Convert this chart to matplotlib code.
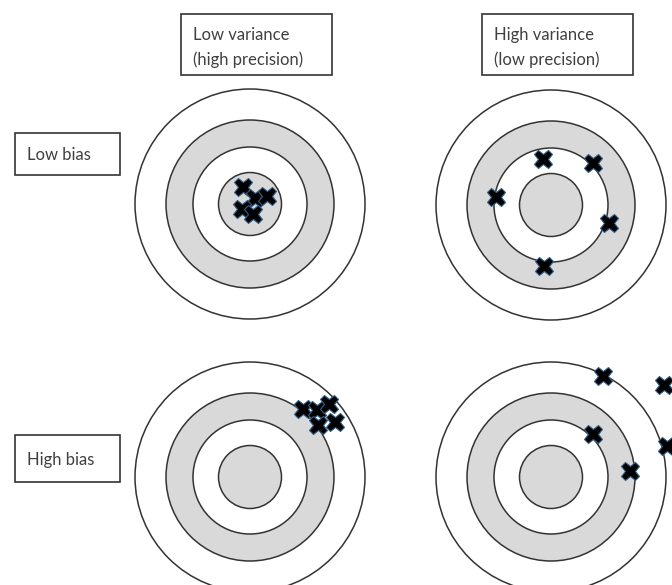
import matplotlib
matplotlib.use("Agg")
from matplotlib import pyplot as plt
from matplotlib.patches import Circle, Rectangle

# target centres (pixel coordinates of the original picture)
target_x = [250, 551, 250, 551]
target_y = [204, 205, 477, 477]
ring_radii = [115, 84, 57, 31.5]
ring_fill = ["white", "#d9d9d9", "white", "#d9d9d9"]

# hits on each target
hits_x = [
    [243, 255, 267, 242, 253],
    [543, 593, 496, 609, 544],
    [303, 317, 329, 318, 335],
    [603, 664, 667, 593, 630],
]
hits_y = [
    [187, 198, 196, 209, 214],
    [159, 163, 197, 223, 266],
    [409, 410, 404, 425, 422],
    [376, 385, 446, 434, 471],
]

# label boxes: text, left, top, right, bottom
labels = ["Low variance\n(high precision)", "High variance\n(low precision)", "Low bias", "High bias"]
box_left = [181, 482, 15, 15]
box_top = [14, 14, 133, 435]
box_right = [332, 633, 120, 120]
box_bottom = [75, 75, 175, 482]

plt.rcParams['font.family'] = ['Lato', 'DejaVu Sans']

fig = plt.figure(figsize=(6.72, 5.85), dpi=100)
ax = fig.add_axes([0, 0, 1, 1])
ax.set_xlim(0, 672)
ax.set_ylim(585, 0)
ax.set_aspect("equal")
ax.axis("off")

for cx, cy in zip(target_x, target_y):
    for r, fc in zip(ring_radii, ring_fill):
        ax.add_patch(Circle((cx, cy), r, facecolor=fc, edgecolor="#333333", linewidth=1.1))

for xs, ys in zip(hits_x, hits_y):
    ax.plot(xs, ys, linestyle="none", marker="X", markersize=13,
            markerfacecolor="black", markeredgecolor="#2f5f8a", markeredgewidth=0.8, zorder=5)

for text, l, t, r, b in zip(labels, box_left, box_top, box_right, box_bottom):
    ax.add_patch(Rectangle((l, t), r - l, b - t, facecolor="white", edgecolor="#333333", linewidth=1.2))
    # two-line headers sit a little lower in their boxes
    dy = 3 if "\n" in text else 1
    ax.text(l + 12, (t + b) / 2 + dy, text, ha="left", va="center", fontsize=12,
            color="#404040", linespacing=1.65)

fig.savefig("out.png", dpi=100)
